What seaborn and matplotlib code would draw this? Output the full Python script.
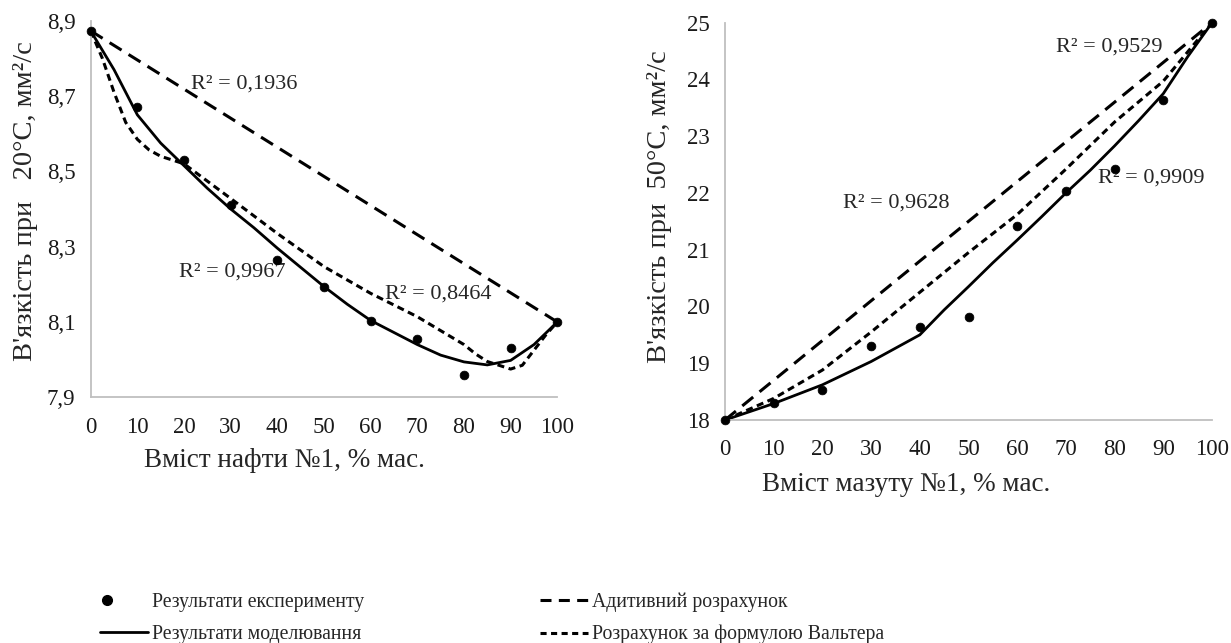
import matplotlib
matplotlib.use('Agg')
import numpy as np
import matplotlib.pyplot as plt
import seaborn as sns
from matplotlib.lines import Line2D
from matplotlib.legend_handler import HandlerLine2D

# ---- data ----
x_exp = [0, 10, 20, 30, 40, 50, 60, 70, 80, 90, 100]

# left: oil No1, viscosity at 20 C
visc20_exp = [8.873, 8.67, 8.53, 8.41, 8.265, 8.194, 8.103, 8.054, 7.96, 8.03, 8.10]
x_model20 = [0, 5, 10, 15, 20, 25, 30, 35, 40, 45, 50, 55, 60, 65, 70, 75, 80, 85, 90, 95, 100]
visc20_model = [8.873, 8.77, 8.65, 8.575, 8.515, 8.455, 8.40, 8.35, 8.296, 8.245, 8.194,
                8.147, 8.104, 8.072, 8.040, 8.012, 7.994, 7.986, 7.998, 8.04, 8.10]
x_walther20 = [0, 2.5, 5, 7.5, 10, 12.5, 15, 20, 30, 40, 50, 60, 70, 80, 82.5, 85, 87.5,
               90, 92.5, 95, 97.5, 100]
visc20_walther = [8.873, 8.80, 8.71, 8.63, 8.585, 8.557, 8.54, 8.52, 8.428, 8.335, 8.247,
                  8.176, 8.114, 8.04, 8.015, 7.995, 7.985, 7.975, 7.985, 8.025, 8.065, 8.10]
x_add = [0, 100]
visc20_add = [8.873, 8.10]

# right: fuel oil No1, viscosity at 50 C
visc50_exp = [18.0, 18.305, 18.52, 19.31, 19.63, 19.82, 21.42, 22.03, 22.43, 23.63, 25.0]
x_model50 = [0, 10, 20, 30, 40, 45, 50, 55, 60, 65, 70, 75, 80, 85, 90, 95, 100]
visc50_model = [18.0, 18.29, 18.62, 19.03, 19.50, 19.94, 20.35, 20.77, 21.17, 21.58, 22.0,
                22.40, 22.83, 23.28, 23.75, 24.40, 25.0]
x_walther50 = [0, 10, 20, 30, 40, 50, 60, 70, 80, 90, 100]
visc50_walther = [18.0, 18.38, 18.88, 19.55, 20.25, 20.95, 21.62, 22.42, 23.25, 23.97, 25.0]
visc50_add = [18.0, 25.0]

xticks = [0, 10, 20, 30, 40, 50, 60, 70, 80, 90, 100]
yticks20 = [7.9, 8.1, 8.3, 8.5, 8.7, 8.9]
yticklabels20 = ['7,9', '8,1', '8,3', '8,5', '8,7', '8,9']
yticks50 = [18, 19, 20, 21, 22, 23, 24, 25]

r2_left = [('R² = 0,1936', 21.5, 8.733), ('R² = 0,9967', 19.0, 8.233), ('R² = 0,8464', 63.0, 8.175)]
r2_right = [('R² = 0,9529', 68.0, 24.57), ('R² = 0,9909', 76.5, 22.27), ('R² = 0,9628', 24.2, 21.83)]

legend_labels = ['Результати експерименту', 'Результати моделювання',
                 'Адитивний розрахунок', 'Розрахунок за формулою Вальтера']

# ---- style ----
sns.set_style('white')
plt.rcParams['font.family'] = ['Liberation Serif', 'DejaVu Serif']

LONG = (0, (4.6, 2.7))
SHORT = (0, (2.3, 1.5))
LW = 2.0
LWD = 2.2
GREY = '#bfbfbf'

fig = plt.figure(figsize=(12.31, 6.43), dpi=100)
W, H = 1231, 643
ax1 = fig.add_axes([90.7 / W, 1 - 397.3 / H, 466.6 / W, 376.6 / H])
ax2 = fig.add_axes([725 / W, 1 - 420 / H, 487 / W, 397.3 / H])


def draw(ax, y_exp, xm, ym, xw, yw, y_add):
    sns.lineplot(x=x_add, y=y_add, ax=ax, color='black', linewidth=LWD, linestyle=LONG)
    sns.lineplot(x=xw, y=yw, ax=ax, color='black', linewidth=LWD, linestyle=SHORT)
    sns.lineplot(x=xm, y=ym, ax=ax, color='black', linewidth=LW)
    sns.scatterplot(x=x_exp, y=y_exp, ax=ax, color='black', s=40, edgecolor='black',
                    zorder=5, clip_on=False)
    for side in ['top', 'right']:
        ax.spines[side].set_visible(False)
    for side in ['left', 'bottom']:
        ax.spines[side].set_color(GREY)
        ax.spines[side].set_linewidth(1.3)
    ax.tick_params(direction='in', length=4, width=1.2, color=GREY, labelsize=16.5,
                   labelcolor='#1a1a1a')
    ax.tick_params(axis='x', pad=14)
    ax.tick_params(axis='y', pad=11)
    ax.set_xlim(0, 100)
    ax.set_xticks(xticks)


draw(ax1, visc20_exp, x_model20, visc20_model, x_walther20, visc20_walther, visc20_add)
ax1.set_ylim(7.9, 8.9)
ax1.set_yticks(yticks20)
ax1.set_yticklabels(yticklabels20)
ax1.set_xlabel('Вміст нафти №1, % мас.', fontsize=19.5)
ax1.set_ylabel('В\'язкість при   20°С, мм²/с', fontsize=20.5)
ax1.xaxis.set_label_coords(0.415, -0.135)
ax1.yaxis.set_label_coords(-0.113, 0.521)
for txt, x, y in r2_left:
    ax1.text(x, y, txt, fontsize=16, ha='left', va='center')

draw(ax2, visc50_exp, x_model50, visc50_model, x_walther50, visc50_walther, visc50_add)
ax2.set_ylim(18, 25)
ax2.set_yticks(yticks50)
ax2.set_xlabel('Вміст мазуту №1, % мас.', fontsize=19.5)
ax2.set_ylabel('В\'язкість при  50°С, мм²/с', fontsize=20.5)
ax2.xaxis.set_label_coords(0.372, -0.13)
ax2.yaxis.set_label_coords(-0.109, 0.537)
for txt, x, y in r2_right:
    ax2.text(x, y, txt, fontsize=16, ha='left', va='center')


class LeftMarker(HandlerLine2D):
    # the single marker sits in the middle of xdata, so keep xdata short and at the left
    def get_xdata(self, legend, xdescent, ydescent, width, height, fontsize):
        xdata = np.array([-xdescent, -xdescent + 10.0])
        return xdata, [-xdescent + 5.0]


handles = [
    Line2D([], [], color='black', marker='o', linestyle='None', markersize=7),
    Line2D([], [], color='black', linewidth=LW),
    Line2D([], [], color='black', linewidth=LWD, linestyle=(0, (3.6, 2.4))),
    Line2D([], [], color='black', linewidth=LWD, linestyle=(0, (2.0, 1.45))),
]
fig.legend(handles, legend_labels, ncol=2, loc='upper left', bbox_to_anchor=(100 / W, 1 - 592 / H),
           frameon=False, fontsize=14.2, handlelength=2.45, handletextpad=0.2,
           columnspacing=8.9, labelspacing=0.68, borderpad=0, borderaxespad=0,
           handler_map={handles[0]: LeftMarker(numpoints=1)})

fig.savefig('out.png', dpi=100)
